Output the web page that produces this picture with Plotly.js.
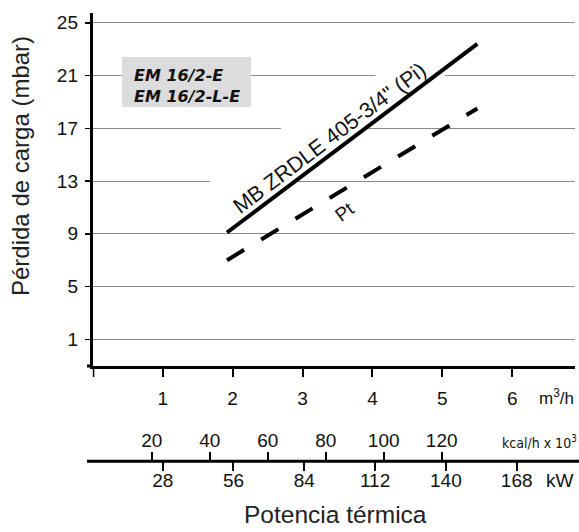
<!DOCTYPE html>
<html>
<head>
<meta charset="utf-8">
<script src="https://cdn.plot.ly/plotly-3.0.1.min.js"></script>
<style>html,body{margin:0;padding:0;background:#fff}#chart{width:579px;height:532px}</style>
</head>
<body>
<div id="chart"></div>
<script>
// ---- data ----
const flowM3h = [1.92, 5.5];          // gas flow, m3/h (start / end of each curve)
const lossPi = [9.1, 23.4];           // MB ZRDLE 405-3/4" (Pi), mbar
const lossPt = [7.0, 18.5];           // Pt, mbar
const yTicks = [1, 5, 9, 13, 17, 21, 25];
const xTicks = [1, 2, 3, 4, 5, 6];
const kcalTicks = [20, 40, 60, 80, 100, 120];
const kwTicks = [28, 56, 84, 112, 140, 168];
const piLabel = 'MB ZRDLE 405-3/4" (Pi)';
const ptLabel = 'Pt';
const modelLines = ['EM 16/2-E', 'EM 16/2-L-E'];

const FONT = 'Liberation Sans, Arial, sans-serif';
const tickFont = {family: FONT, size: 19, color: '#111'};

const traces = [
  {x: flowM3h, y: lossPi, mode: 'lines', line: {color: '#000', width: 4}, hoverinfo: 'skip', showlegend: false},
  {x: flowM3h, y: lossPt, mode: 'lines', line: {color: '#000', width: 4, dash: '20px,20px'}, hoverinfo: 'skip', showlegend: false},
  {x: [], y: [], xaxis: 'x2', yaxis: 'y', mode: 'lines', showlegend: false, hoverinfo: 'skip'},
  {x: [], y: [], xaxis: 'x3', yaxis: 'y', mode: 'lines', showlegend: false, hoverinfo: 'skip'}
];

const gapRect = (x0, x1, yc) => ({type: 'rect', layer: 'between', xref: 'x', yref: 'y',
  x0: x0, x1: x1, y0: yc - 0.4, y1: yc + 0.4, fillcolor: '#fff', line: {width: 0}});

const layout = {
  width: 579, height: 532,
  margin: {l: 86, r: 0, t: 13, b: 40, pad: 0},
  paper_bgcolor: '#fff', plot_bgcolor: '#fff',
  showlegend: false,
  xaxis: {
    domain: [0.01379, 0.99189], range: [0, 6.897], anchor: 'y',
    showline: true, linewidth: 3, linecolor: '#000',
    ticks: 'outside', ticklen: 8, tickwidth: 2, tickcolor: '#000',
    tickvals: xTicks, ticktext: xTicks.map(String), tickfont: tickFont,
    ticklabelstandoff: 5,
    showgrid: false, zeroline: false, fixedrange: true
  },
  xaxis2: {
    overlaying: 'x', anchor: 'free', position: 0.0641, side: 'top',
    range: [-0.31, 165.97], showline: false,
    ticks: 'outside', ticklen: 9, tickwidth: 2, tickcolor: '#000',
    tickvals: kcalTicks, ticktext: kcalTicks.map(String), tickfont: tickFont,
    ticklabelstandoff: -2,
    showgrid: false, zeroline: false, fixedrange: true
  },
  xaxis3: {
    overlaying: 'x', anchor: 'free', position: 0.0641, side: 'bottom',
    range: [0.356, 191.06], showline: false,
    ticks: 'outside', ticklen: 9, tickwidth: 2, tickcolor: '#000',
    tickvals: kwTicks, ticktext: kwTicks.map(String), tickfont: tickFont,
    ticklabelstandoff: -7,
    showgrid: false, zeroline: false, fixedrange: true
  },
  yaxis: {
    domain: [0.26305, 1], range: [-1.02, 25.74], anchor: 'x',
    showline: true, linewidth: 3, linecolor: '#000',
    ticks: 'outside', ticklen: 5, tickwidth: 1.5, tickcolor: '#000',
    tickvals: yTicks, ticktext: yTicks.map(String), tickfont: tickFont,
    ticklabelstandoff: 3,
    showgrid: true, gridcolor: '#8a8a8a', gridwidth: 1,
    zeroline: false, fixedrange: true
  },
  shapes: [
    gapRect(1.676, 2.92, 13),
    gapRect(2.69, 3.89, 17),
    gapRect(4.04, 5.04, 21),
    // grey model box
    {type: 'rect', layer: 'between', xref: 'x', yref: 'y', x0: 0.418, x1: 2.263, y0: 18.61, y1: 22.40,
      fillcolor: '#dcdcdc', line: {width: 0}},
    // secondary scale base line
    {type: 'line', xref: 'paper', yref: 'paper', x0: 0.002, x1: 1, y0: 0.0641, y1: 0.0641,
      line: {color: '#000', width: 3}},
    // y axis extension below x axis
    {type: 'line', xref: 'x', yref: 'paper', x0: 0, x1: 0, y0: 0.26305, y1: 0.2401,
      line: {color: '#000', width: 3}},
    // x axis extension left of y axis
    {type: 'line', xref: 'paper', yref: 'paper', x0: 0.002, x1: 0.014, y0: 0.26305, y1: 0.26305,
      line: {color: '#000', width: 3}}
  ],
  annotations: [
    {xref: 'x', yref: 'y', x: 0.561, y: 20.24, xanchor: 'left', yanchor: 'middle', align: 'left',
      text: '<b><i>' + modelLines.join('<br>') + '</i></b>', showarrow: false,
      font: {family: 'DejaVu Sans, sans-serif', size: 16, color: '#111'}},
    {xref: 'x', yref: 'y', x: 3.392, y: 16.3, xanchor: 'center', yanchor: 'middle',
      text: piLabel, textangle: -37, showarrow: false, font: {family: FONT, size: 21.5, color: '#111'}},
    {xref: 'x', yref: 'y', x: 3.607, y: 10.73, xanchor: 'center', yanchor: 'middle',
      text: ptLabel, textangle: -37, showarrow: false, font: {family: FONT, size: 19, color: '#111'}},
    {xref: 'paper', yref: 'paper', x: 0.955, y: 0.1983, xanchor: 'center', yanchor: 'middle',
      text: 'm<sup>3</sup>/h', showarrow: false, font: {family: FONT, size: 17, color: '#111'}},
    {xref: 'paper', yref: 'paper', x: 1.0, y: 0.105, xanchor: 'right', yanchor: 'middle',
      text: 'kcal/h x 10<sup>3</sup>', showarrow: false,
      font: {family: 'Liberation Sans Narrow, DejaVu Sans Condensed, sans-serif', size: 14, color: '#111'}},
    {xref: 'paper', yref: 'paper', x: 0.9615, y: 0.025, xanchor: 'center', yanchor: 'middle',
      text: 'kW', showarrow: false, font: {family: FONT, size: 19, color: '#111'}},
    {xref: 'paper', yref: 'paper', x: 0.507, y: -0.047, xanchor: 'center', yanchor: 'middle',
      text: 'Potencia térmica', showarrow: false, font: {family: FONT, size: 24.5, color: '#222'}},
    {xref: 'paper', yref: 'paper', x: -0.1318, y: 0.6806, xanchor: 'center', yanchor: 'middle',
      text: 'Pérdida de carga (mbar)', textangle: -90, showarrow: false,
      font: {family: FONT, size: 24, color: '#222'}}
  ]
};

Plotly.newPlot('chart', traces, layout, {staticPlot: true, displayModeBar: false});
</script>
</body>
</html>
